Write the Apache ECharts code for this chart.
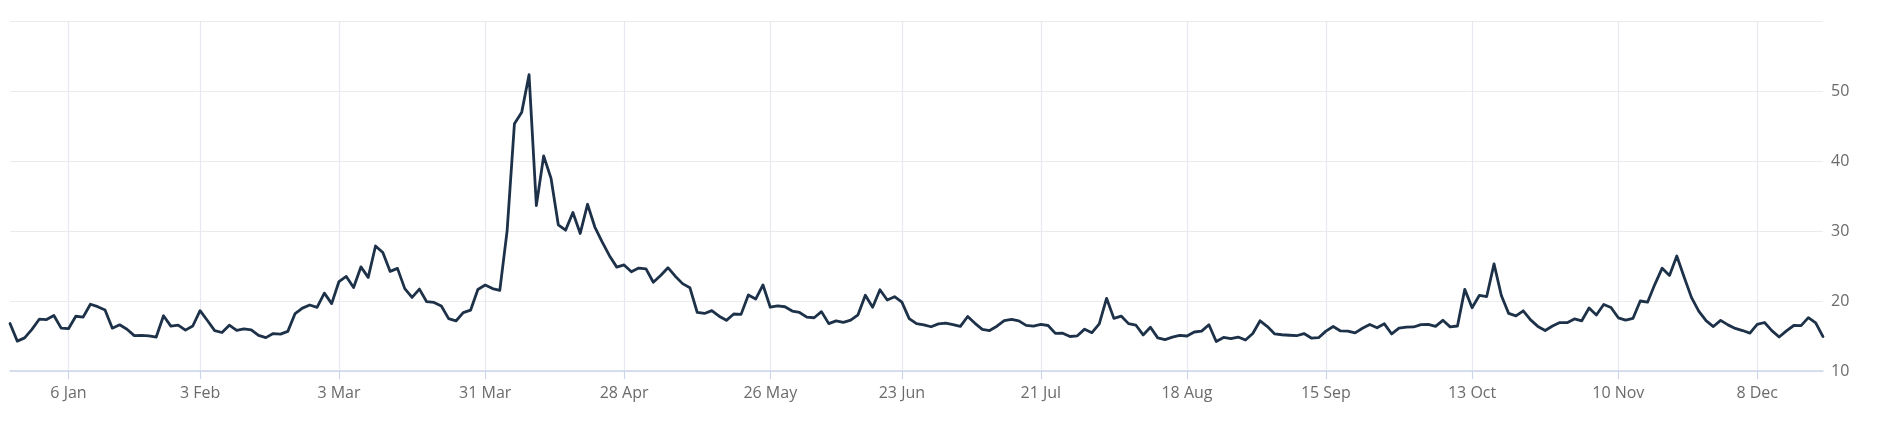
<!DOCTYPE html>
<html>
<head>
<meta charset="utf-8">
<script src="https://cdn.jsdelivr.net/npm/echarts@6/dist/echarts.min.js"></script>
<style>
  html, body { margin: 0; padding: 0; background: #ffffff; }
  #chart { width: 1894px; height: 422px; }
</style>
</head>
<body>
<div id="chart"></div>
<script>
// Trading days (day-of-month) and closing values, by month
const months = [
  { ym: '2024-12', days: [23,24,26,27,30,31],
    values: [16.78,14.27,14.73,15.95,17.40,17.35] },
  { ym: '2025-01', days: [2,3,6,7,8,10,13,14,15,16,17,21,22,23,24,27,28,29,30,31],
    values: [17.93,16.13,16.04,17.82,17.70,19.54,19.19,18.71,16.12,16.60,15.97,15.06,15.10,15.02,14.85,17.90,16.41,16.56,15.84,16.43] },
  { ym: '2025-02', days: [3,4,5,6,7,10,11,12,13,14,18,19,20,21,24,25,26,27,28],
    values: [18.62,17.21,15.77,15.50,16.54,15.81,16.02,15.89,15.10,14.77,15.35,15.27,15.66,18.21,18.98,19.43,19.10,21.13,19.63] },
  { ym: '2025-03', days: [3,4,5,6,7,10,11,12,13,14,17,18,19,20,21,24,25,26,27,28,31],
    values: [22.78,23.51,21.93,24.87,23.37,27.86,26.92,24.23,24.66,21.77,20.51,21.70,19.90,19.80,19.28,17.48,17.15,18.33,18.69,21.65,22.28] },
  { ym: '2025-04', days: [1,2,3,4,7,8,9,10,11,14,15,16,17,21,22,23,24,25,28,29,30],
    values: [21.77,21.51,30.02,45.31,46.98,52.33,33.62,40.72,37.56,30.89,30.12,32.64,29.65,33.82,30.57,28.45,26.47,24.84,25.15,24.17,24.70] },
  { ym: '2025-05', days: [1,2,5,6,7,8,9,12,13,14,15,16,19,20,21,22,23,27,28,29,30],
    values: [24.60,22.68,23.64,24.76,23.55,22.48,21.90,18.39,18.22,18.62,17.83,17.24,18.14,18.09,20.87,20.28,22.29,19.11,19.31,19.18,18.57] },
  { ym: '2025-06', days: [2,3,4,5,6,9,10,11,12,13,16,17,18,20,23,24,25,26,27,30],
    values: [18.36,17.69,17.61,18.48,16.77,17.16,16.95,17.26,18.02,20.82,19.11,21.60,20.14,20.62,19.83,17.48,16.76,16.59,16.32,16.73] },
  { ym: '2025-07', days: [1,2,3,7,8,9,10,11,14,15,16,17,18,21,22,23,24,25,28,29,30,31],
    values: [16.83,16.64,16.38,17.79,16.81,15.94,15.78,16.40,17.20,17.38,17.16,16.52,16.41,16.65,16.50,15.37,15.39,14.93,15.03,15.98,15.48,16.72] },
  { ym: '2025-08', days: [1,4,5,6,7,8,11,12,13,14,15,18,19,20,21,22,25,26,27,28,29],
    values: [20.38,17.52,17.85,16.77,16.57,15.15,16.25,14.73,14.49,14.83,15.09,15.00,15.57,15.69,16.60,14.22,14.79,14.62,14.85,14.43,15.36] },
  { ym: '2025-09', days: [2,3,4,5,8,9,10,11,12,15,16,17,18,19,22,23,24,25,26,29,30],
    values: [17.17,16.35,15.30,15.18,15.11,15.04,15.35,14.71,14.76,15.69,16.36,15.72,15.70,15.45,16.10,16.64,16.18,16.74,15.29,16.12,16.28] },
  { ym: '2025-10', days: [1,2,3,6,7,8,9,10,13,14,15,16,17,20,21,22,23,24,27,28,29,30,31],
    values: [16.29,16.63,16.65,16.37,17.24,16.30,16.43,21.66,19.03,20.81,20.64,25.31,20.78,18.23,17.87,18.60,17.30,16.37,15.79,16.42,16.92,16.91,17.44] },
  { ym: '2025-11', days: [3,4,5,6,7,10,11,12,13,14,17,18,19,20,21,24,25,26,28],
    values: [17.17,19.00,18.01,19.50,19.08,17.60,17.28,17.51,20.00,19.83,22.38,24.69,23.66,26.42,23.43,20.52,18.56,17.19,16.35] },
  { ym: '2025-12', days: [1,2,3,4,5,8,9,10,11,12,15,16,17,18,19],
    values: [17.24,16.59,16.08,15.78,15.41,16.66,16.93,15.77,14.85,15.74,16.50,16.48,17.62,16.87,14.91] }
];

// X-axis tick dates and their labels
const tickDates = ['2025-01-06','2025-02-03','2025-03-03','2025-03-31','2025-04-28','2025-05-26',
                   '2025-06-23','2025-07-21','2025-08-18','2025-09-15','2025-10-13','2025-11-10','2025-12-08'];
const tickLabels = ['6 Jan','3 Feb','3 Mar','31 Mar','28 Apr','26 May',
                    '23 Jun','21 Jul','18 Aug','15 Sep','13 Oct','10 Nov','8 Dec'];

// Y-axis ticks
const yMin = 10, yMax = 60, yStep = 10;

// Build category list and series
const categories = [];
const values = [];
months.forEach(m => {
  m.days.forEach((d, i) => {
    categories.push(m.ym + '-' + String(d).padStart(2, '0'));
    values.push(m.values[i]);
  });
});

const tickMap = {};
tickDates.forEach((td, k) => {
  const idx = categories.findIndex(c => c >= td);
  if (idx >= 0) tickMap[idx] = tickLabels[k];
});
const isTick = (index) => Object.prototype.hasOwnProperty.call(tickMap, index);

const chart = echarts.init(document.getElementById('chart'), null, { renderer: 'canvas' });
chart.setOption({
  animation: false,
  backgroundColor: '#ffffff',
  grid: { left: 10, right: 71, top: 21, bottom: 51 },
  xAxis: {
    type: 'category',
    data: categories,
    boundaryGap: false,
    axisLine: { show: true, lineStyle: { color: '#ccd6eb', width: 1.5 } },
    axisTick: { show: true, interval: isTick, length: 8, lineStyle: { color: '#ccd6eb', width: 1.2 } },
    splitLine: { show: true, interval: isTick, lineStyle: { color: '#e6eaf0', width: 1.2 } },
    axisLabel: {
      interval: isTick,
      formatter: (v, i) => tickMap[i] || '',
      color: '#6b6b6b',
      fontFamily: 'Open Sans',
      fontSize: 16,
      margin: 14
    }
  },
  yAxis: {
    type: 'value',
    position: 'right',
    min: yMin,
    max: yMax,
    interval: yStep,
    axisLine: { show: false },
    axisTick: { show: false },
    splitLine: { show: true, lineStyle: { color: '#ebebeb', width: 1.2 } },
    axisLabel: {
      formatter: v => (v === yMax ? '' : String(v)),
      color: '#6b6b6b',
      fontFamily: 'Open Sans',
      fontSize: 16,
      margin: 8
    }
  },
  series: [{
    type: 'line',
    data: values,
    symbol: 'none',
    lineStyle: { color: '#1d3149', width: 2.8, join: 'round', cap: 'round' },
    itemStyle: { color: '#1d3149' }
  }]
});
</script>
</body>
</html>
